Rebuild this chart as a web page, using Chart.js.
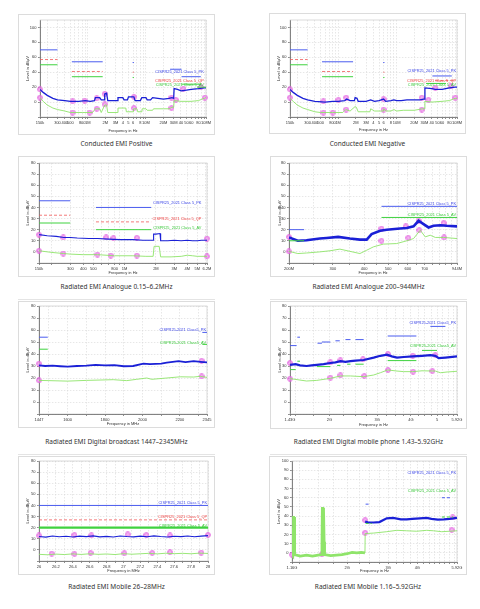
<!DOCTYPE html>
<html>
<head>
<meta charset="utf-8">
<script src="https://cdn.jsdelivr.net/npm/chart.js@4/dist/chart.umd.min.js"></script>
<style>
  body { margin:0; width:480px; height:609px; background:#fff; position:relative; overflow:hidden; font-family:"Noto Sans", sans-serif; }
  .card { position:absolute; border:1px solid #dcdcdc; box-sizing:border-box; }
  canvas { position:absolute; }
  .cap { position:absolute; text-align:center; font-size:6.5px; color:#333; line-height:10px; height:10px; white-space:nowrap; }
  .sep { position:absolute; height:1px; background:#e4e4e4; }
</style>
</head>
<body>
<div class="sep" style="left:18px;top:299px;width:197px"></div>
<div class="sep" style="left:270px;top:299px;width:197px"></div>
<div class="sep" style="left:18px;top:454px;width:197px"></div>
<div class="sep" style="left:270px;top:454px;width:197px"></div>
<script>
// ---- Conducted EMI Positive (MHz, dBuV)
const c1Pk = [[0.15,17],[0.17,13],[0.2,9],[0.25,5],[0.3,3],[0.4,2],[0.5,1],[0.7,1],[0.9,2],[1.1,1],[1.3,2],[1.35,6],[1.6,6],[1.7,3],[1.9,3],[1.95,11],[2.1,12],[2.2,2],[2.8,2],[3.2,2],[3.3,6],[4,6],[4.2,3],[4.8,3],[5,7],[6.2,7],[6.5,2],[8,2],[8.5,6],[10,6],[10.5,3],[12,3],[13,6],[16,5],[20,4],[25,5],[28,6],[30,5],[30.5,18],[35,17],[40,15],[50,16],[60,17],[80,18],[100,19],[108,19]];
const c1Av = [[0.15,6],[0.17,1],[0.2,-4],[0.25,-8],[0.3,-10],[0.4,-12],[0.5,-14],[0.8,-14],[1.2,-14],[1.35,-9],[1.6,-9],[1.7,-14],[1.95,-4],[2.1,-4],[2.2,-14],[3.2,-14],[3.3,-8],[4.5,-8],[4.6,-13],[6,-13],[6.1,-9],[7,-9],[7.2,-13],[8.5,-13],[8.6,-9],[10,-9],[10.5,-11],[13,-11],[13.5,-9],[20,-9],[25,-9],[28,-7],[30,-7],[30.5,2],[40,1],[60,1],[80,2],[100,5],[108,6]];
const c1Marks = [[0.15,17],[0.15,6],[0.545,1],[0.545,-14],[0.88,2],[1.07,-14],[1.42,5],[1.42,-9],[1.95,11],[1.95,-3],[6.2,7],[6.2,-8],[27.5,6],[27.5,-8],[32.6,3],[44,18],[88,20],[103,6]];
const c1LimPk = [[0.15,0.3,70],[0.53,1.8,54],[5.9,6.2,53],[26,41,44],[41,88,34]];
const c1LimQp = [[0.15,0.3,57],[0.53,1.8,41],[5.9,6.2,40]];
const c1LimAv = [[0.15,0.3,50],[0.53,1.8,34],[5.9,6.2,33],[41,88,24],[76,108,20]];

// ---- Conducted EMI Negative
const c2Pk = [[0.15,17],[0.17,13],[0.2,9],[0.25,5],[0.3,3],[0.4,1],[0.6,0],[0.8,1],[1.0,1],[1.3,2],[1.4,4],[1.6,2],[1.9,2],[1.95,6],[2.1,5],[2.2,1],[3,1],[3.6,3],[4.2,1],[5,2],[6,4],[6.5,1],[8,2],[9,3],[10,2],[12,2],[15,3],[20,3],[25,3],[29,4],[30,4],[30.5,19],[40,18],[46,17],[60,17],[80,19],[100,20],[108,20]];
const c2Av = [[0.15,5],[0.17,1],[0.2,-4],[0.25,-8],[0.3,-10],[0.4,-13],[0.5,-14],[0.8,-14],[1.2,-14],[1.35,-10],[1.6,-12],[1.95,-6],[2.05,-7],[2.2,-13],[3.5,-13],[3.6,-9],[4.2,-12],[5.9,-12],[6,-9],[6.5,-12],[8,-12],[9,-10],[10,-12],[13,-11],[20,-11],[28,-9],[30,-9],[30.5,1],[40,0],[60,1],[80,2],[100,5],[108,5]];
const c2Marks = [[0.15,17],[0.15,6],[0.56,1],[0.56,-14],[0.81,-14],[1.01,3],[1.37,6],[1.37,-10],[5.97,4],[5.97,-10],[27,6],[27,-10],[35,3],[46,19],[85,21],[101,6]];
const c2LimPk = [[0.15,0.3,70],[0.53,1.8,54],[5.9,6.2,53],[41,88,35]];
const c2LimQp = [[0.15,0.3,57],[0.53,1.8,41],[5.9,6.2,40],[46,96,29]];
const c2LimAv = [[0.15,0.3,50],[0.53,1.8,34],[5.9,6.2,33],[32,70,25]];

// ---- Radiated EMI Analogue 0.15-6.2 MHz
const c3Pk = [[0.15,15.5],[0.18,14.5],[0.22,14],[0.26,13],[0.3,13],[0.35,12.5],[0.45,12],[0.55,12],[0.7,11.5],[0.9,11],[1.2,11],[1.5,10.5],[1.88,10.5],[1.9,16],[2.0,16],[2.19,16.5],[2.22,10],[2.6,10],[3,10.5],[3.5,10],[4,10.5],[4.5,10],[5,10],[5.5,10.5],[6.2,10.5]];
const c3Av = [[0.15,1],[0.2,-0.5],[0.26,-1.5],[0.3,-2],[0.4,-2.5],[0.55,-2.5],[0.8,-3.5],[1.2,-3.5],[1.6,-4],[1.88,-4],[1.92,5],[2.15,5],[2.22,-4.5],[2.8,-4.5],[3.5,-4],[4,-3],[4.5,-3.5],[5,-4],[6.2,-4]];
const c3Marks = [[0.15,15.5],[0.15,1],[0.257,13],[0.257,-1.5],[0.548,-2.4],[0.664,13],[0.735,-3.3],[0.78,12.4],[1.31,12.7],[1.31,-3.3],[6.2,12],[6.2,-4]];
const c3LimPk = [[0.15,0.3,46],[0.53,1.8,40]];
const c3LimQp = [[0.15,0.3,33],[0.53,1.8,27]];
const c3LimAv = [[0.15,0.3,26],[0.53,1.8,20]];

// ---- Radiated EMI Analogue 200-944 MHz
const c4Pk = [[200,13],[217,10],[235,10.5],[266,12],[283,12.5],[315,13.5],[351,12],[385,11],[410,11],[429,16],[464,19],[493,20],[558,21],[594,21.5],[632,23],[662,28],[693,25],[726,22],[760,23.5],[809,24],[860,23.5],[944,23]];
const c4Av = [[200,0.5],[217,-1.5],[235,-1],[266,0],[292,1],[320,2.5],[351,0.5],[385,-1.5],[410,1.5],[436,4.5],[478,7],[541,7.5],[594,10],[632,12],[672,19.5],[704,13.5],[737,15],[773,13],[834,13],[944,12]];
const c4Marks = [[200,13.5],[200,0.5],[470,21],[470,10],[588,23],[602,12.7],[662,28],[666,19.6],[834,26],[838,13]];
const c4LimPk = [[200,230,20],[470,944,41]];
const c4LimAv = [[200,230,10],[470,944,31]];

// ---- Radiated EMI Digital broadcast 1447-2345 MHz
const c5Pk = [[1447,30.5],[1480,30],[1520,30.3],[1560,29.8],[1600,29.4],[1650,30],[1700,30.3],[1750,31],[1800,30.5],[1850,30.8],[1900,29.8],[1950,30],[2005,32],[2040,31.5],[2100,32],[2130,32.8],[2193,34],[2230,33.2],[2274,34],[2310,33.5],[2345,33]];
const c5Av = [[1447,18],[1500,17.8],[1600,17.4],[1700,18],[1773,18.3],[1844,18.6],[1916,17.8],[1969,18.9],[2023,20],[2050,18.9],[2130,20],[2202,21],[2274,20.8],[2309,21.4],[2345,20.5]];
const c5Marks = [[1447,32],[1447,18],[2316,34.4],[2316,21.4]];
const c5LimPk = [[1447,1494,54],[2320,2345,58]];
const c5LimAv = [[1447,1494,44],[2320,2345,48]];

// ---- Radiated EMI Digital mobile phone 1.43-5.92 GHz (MHz)
const c6Pk = [[1430,31],[1500,31.5],[1557,30.5],[1646,30],[1720,30.5],[1796,31],[1903,31.5],[2015,32.5],[2105,33],[2196,34],[2292,33.5],[2392,34],[2496,34.5],[2676,35],[2914,37],[3085,38.5],[3265,39.5],[3400,38],[3554,37],[3762,37.5],[4061,38],[4396,38.5],[4720,39],[4925,38.5],[5066,36.5],[5364,37],[5920,38]];
const c6Av = [[1430,19.5],[1646,17.5],[1796,18],[2015,19.7],[2196,21.7],[2392,21.7],[2676,21.1],[2914,22.5],[3085,24.4],[3283,26.7],[3554,25.8],[3762,25.3],[4061,25.3],[4396,26],[4925,25.8],[5138,24.4],[5441,25],[5920,25.6]];
const c6Marks = [[1430,32.5],[1430,19.4],[2015,33],[2015,20.3],[2196,34.7],[2196,22.2],[2660,35.6],[2690,21.7],[3290,40],[3290,26.7],[4061,38.6],[4075,25.3],[4925,39.2],[4800,25.8]];
const c6LimPk = [[1430,1513,47],[1522,1557,54],[1807,1876,49],[1876,2015,50],[2105,2184,51],[2292,2392,52],[2496,2676,52],[3283,4190,55],[4720,5364,63]];
const c6LimAv = [[1430,1500,27],[1522,1557,34],[1796,2015,29.5],[2135,2196,30.5],[2325,2392,31.5],[2496,2676,31.5],[3283,4190,34.5],[4396,4995,43]];

// ---- Radiated EMI Mobile 26-28 MHz
const c7Pk = [[26,12],[26.08,11.5],[26.16,12.5],[26.24,11.8],[26.32,12.3],[26.4,11.6],[26.48,12.4],[26.56,11.9],[26.64,12.6],[26.72,11.7],[26.8,12.2],[26.88,11.6],[26.96,12.5],[27.04,12],[27.12,11.7],[27.2,12.4],[27.28,11.8],[27.36,12.6],[27.44,12],[27.52,11.6],[27.6,12.3],[27.68,11.9],[27.76,12.5],[27.84,11.8],[27.92,12.4],[28,12.8]];
const c7Av = [[26,-4],[26.1,-4.4],[26.2,-3.8],[26.3,-4.2],[26.4,-3.6],[26.5,-4.1],[26.6,-3.5],[26.7,-4],[26.8,-3.7],[26.9,-4.2],[27,-3.4],[27.1,-3.9],[27.2,-3.5],[27.3,-3.1],[27.4,-3.6],[27.5,-3],[27.6,-3.4],[27.7,-3.1],[27.8,-3.5],[27.9,-2.9],[28,-3.2]];
const c7Marks = [[26,13],[26.42,13.5],[26.62,13],[27.05,14],[27.27,13.5],[27.55,13],[28,13.5],[26.15,-3.3],[26.42,-3.6],[26.61,-2.7],[27.01,-3],[27.34,-2.7],[27.55,-2.1],[27.92,-2.4]];
const c7LimPk = [[26,28,40]];
const c7LimQp = [[26,28,27]];
const c7LimAv = [[26,28,20]];

// ---- Radiated EMI Mobile 1.16-5.92 GHz (MHz)
const c8Pk = [[2389,34],[2469,33],[2600,33],[2750,33.5],[2958,37.5],[3150,38],[3400,36.5],[3603,36.5],[3800,37],[4100,37.5],[4390,38],[4600,37],[4900,36.2],[5200,36.4],[5500,37],[5920,38]];
const c8AvLow = [[1160,-2],[1168,-3],[1172,22],[1176,40],[1180,21],[1184,39],[1188,20],[1192,-2],[1260,-3.5],[1340,-2.5],[1420,-3.5],[1500,-2.5],[1556,-2],[1560,8],[1566,50],[1571,6],[1576,49],[1581,10],[1587,46],[1593,12],[1600,-2],[1700,-3],[1800,-2.5],[1900,-2],[2000,-1],[2100,0.5],[2200,0],[2300,0.5],[2385,0]];
const c8AvHigh = [[2385,0],[2390,21],[2600,21.5],[2958,23],[3264,24.5],[3603,24],[3977,23.5],[4390,24.5],[4700,24],[5089,23],[5500,23.5],[5920,24]];
const c8Marks = [[1160,-2],[1560,-1.5],[2389,35.6],[2389,21.8],[5673,38.5],[5618,25]];
const c8LimPk = [[2400,2500,53],[5100,5600,60]];
const c8LimAv = [[2400,2550,32],[5100,5700,39]];

// ---- tick labels
const xTicksCond = [0.15,0.3,0.4,0.5,0.8,1,2,3,4,5,6,8,10,20,30,40,50,60,80,108];
const xLabelsCond = ['150k','300','400','500','800','1M','2M','3M','4','5','6','8','10M','20M','30M','40','50','60','80','108M'];
const xTicks3 = [0.15,0.3,0.4,0.5,0.8,1,2,3,4,5,6.2];
const xLabels3 = ['150k','300','400','500','800','1M','2M','3M','4M','5M','6.2M'];
const xTicks4 = [200,300,400,500,600,700,944];
const xLabels4 = ['200M','300','400','500','600','700','944M'];
const xTicks5 = [1447,1600,1800,2000,2200,2345];
const xLabels5 = ['1447','1600','1800','2000','2200','2345'];
const xTicks6 = [1430,2000,3000,4000,5000,5920];
const xLabels6 = ['1.43G','2G','3G','4G','5','5.92G'];
const xTicks7 = [26,26.2,26.4,26.6,26.8,27,27.2,27.4,27.6,27.8,28];
const xLabels7 = ['26','26.2','26.4','26.6','26.8','27','27.2','27.4','27.6','27.8','28'];
const xTicks8 = [1160,2000,3000,4000,5920];
const xLabels8 = ['1.16G','2G','3G','4G','5.92G'];
const yLabelsCond = [110,100,80,60,40,20,0];
const yLabels80 = [80,70,60,50,40,30,20,10,0];
const yLabels100 = [100,90,80,70,60,50,40,30,20,10,0];

const FONT = '"Liberation Sans", Arial, sans-serif';
const C_PK = '#1a20d6', C_AV = '#8fe46a', L_PK = '#4a5cef', L_QP = '#f05858', L_AV = '#3fd23f';
const T_PK = '#3a44e6', T_QP = '#ee4040', T_AV = '#3cc83c';

function pts(a) { return a.map(p => ({x: p[0], y: p[1]})); }
function segs(a) {
  const o = [];
  a.forEach(s => { o.push({x: s[0], y: s[2]}, {x: s[1], y: s[2]}, {x: s[1], y: null}); });
  return o;
}
function gridVals(min, max, step, extra) {
  let v = [];
  if (!step) {
    for (let k = Math.floor(Math.log10(min)); k <= Math.ceil(Math.log10(max)); k++)
      for (let n = 1; n < 10; n++) v.push(+(n * Math.pow(10, k)).toPrecision(6));
  } else {
    for (let x = Math.ceil(min / step) * step; x <= max + 1e-9; x += step) v.push(+x.toFixed(4));
  }
  v = v.concat(extra, [min, max]).filter(x => x >= min - 1e-9 && x <= max + 1e-9).sort((a, b) => a - b);
  return v.filter((x, i) => i === 0 || Math.abs(x - v[i - 1]) > 1e-6 * max);
}

// pink circle-with-diamond marker
const markImg = document.createElement('canvas');
markImg.width = 6; markImg.height = 6;
(function () {
  const g = markImg.getContext('2d');
  g.fillStyle = 'rgba(250,205,247,0.6)';
  g.strokeStyle = '#df4cdb';
  g.lineWidth = 0.75;
  g.beginPath(); g.arc(3, 3, 2.45, 0, Math.PI * 2); g.fill(); g.stroke();
  g.beginPath(); g.moveTo(3, 1.4); g.lineTo(4.6, 3); g.lineTo(3, 4.6); g.lineTo(1.4, 3); g.closePath(); g.stroke();
})();

const tagPlugin = {
  id: 'tags',
  afterDatasetsDraw(chart, args, opts) {
    const ctx = chart.ctx, xs = chart.scales.x, ys = chart.scales.y;
    ctx.save();
    ctx.font = '3.9px ' + FONT;
    ctx.textAlign = 'right';
    ctx.textBaseline = 'middle';
    (opts.items || []).forEach(t => {
      ctx.fillStyle = t[3];
      ctx.fillText(t[2], xs.getPixelForValue(t[0]) - 1, ys.getPixelForValue(t[1]));
    });
    ctx.restore();
  }
};
const framePlugin = {
  id: 'frame',
  beforeDatasetsDraw(chart) {
    const a = chart.chartArea, ctx = chart.ctx;
    ctx.save();
    ctx.strokeStyle = '#c4c4c4';
    ctx.lineWidth = 0.6;
    ctx.strokeRect(a.left, a.top, a.right - a.left, a.bottom - a.top);
    ctx.restore();
  }
};
Chart.register(tagPlugin, framePlugin);

function makeChart(o) {
  const [bl, bt, bw, bh] = o.box;
  const [pl, pt, pr, pb] = o.plot;
  const card = document.createElement('div');
  card.className = 'card';
  Object.assign(card.style, {left: bl + 'px', top: bt + 'px', width: bw + 'px', height: bh + 'px'});
  const cv = document.createElement('canvas');
  cv.width = bw; cv.height = bh;
  Object.assign(cv.style, {left: bl + 'px', top: bt + 'px'});
  const cap = document.createElement('div');
  cap.className = 'cap';
  cap.textContent = o.caption;
  Object.assign(cap.style, {left: bl + 'px', width: bw + 'px', top: (o.capY - 5) + 'px'});
  document.body.append(card, cv, cap);

  const ds = [];
  const dash = o.limDash || [];
  if (o.limPk) ds.push({data: segs(o.limPk), borderColor: L_PK, borderWidth: 1, borderDash: dash});
  if (o.limQp) ds.push({data: segs(o.limQp), borderColor: L_QP, borderWidth: 0.8, borderDash: [3, 2]});
  if (o.limAv) ds.push({data: segs(o.limAv), borderColor: L_AV, borderWidth: o.limAvW || 1, borderDash: dash});
  o.av.forEach((a, i) => ds.push({data: pts(a), borderColor: C_AV, borderWidth: (o.avW || [])[i] || 0.9}));
  ds.push({data: pts(o.pk), borderColor: C_PK, borderWidth: o.pkW || 1.1});
  ds.push({data: pts(o.marks), showLine: false, pointStyle: markImg, pointRadius: 3, clip: false});
  ds.forEach(d => { d.tension = 0; d.fill = false; if (d.pointRadius === undefined) d.pointRadius = 0; });

  const xGrid = gridVals(o.xMin, o.xMax, o.xStep, o.xTicks);
  const xLabel = v => {
    const i = o.xTicks.findIndex(t => Math.abs(t - v) < 1e-6 * Math.max(1, t));
    return i < 0 ? '' : o.xLabels[i];
  };
  const tickFont = {size: 4, family: FONT};
  const gridOpt = {color: '#d6d6d6', lineWidth: 0.6, tickLength: 2, tickColor: '#444', tickWidth: 0.6};

  new Chart(cv, {
    type: 'line',
    data: {datasets: ds},
    options: {
      responsive: false, animation: false, devicePixelRatio: 1,
      layout: {autoPadding: false, padding: {left: 0, top: pt - bt, right: bl + bw - pr, bottom: 0}},
      plugins: {legend: {display: false}, tooltip: {enabled: false}, tags: {items: o.tags}},
      scales: {
        x: {
          type: o.xLog ? 'logarithmic' : 'linear', min: o.xMin, max: o.xMax,
          afterBuildTicks: s => { s.ticks = xGrid.map(v => ({value: v})); },
          afterFit: s => { s.height = bt + bh - pb; },
          ticks: {autoSkip: false, maxRotation: 0, minRotation: 0, padding: 1, color: '#333', font: tickFont,
                  callback: v => xLabel(v)},
          grid: gridOpt,
          border: {display: true, color: '#444', width: 0.8, dash: [1.5, 1.5]},
          title: {display: true, text: o.xTitle, color: '#333', font: tickFont, padding: {top: 1, bottom: 2}}
        },
        y: {
          min: o.yMin, max: o.yMax,
          afterBuildTicks: s => { s.ticks = gridVals(o.yMin, o.yMax, 10, []).map(v => ({value: v})); },
          afterFit: s => { s.width = pl - bl; },
          ticks: {padding: 1.5, color: '#333', font: tickFont,
                  callback: v => o.yLabels.includes(v) ? String(v) : ''},
          grid: gridOpt,
          border: {display: true, color: '#444', width: 0.8, dash: [1.5, 1.5]},
          title: {display: true, text: 'Level in dBµV', color: '#333', font: tickFont, padding: {top: 7, bottom: 0}}
        }
      }
    }
  });
}

makeChart({
  caption: 'Conducted EMI Positive', box: [18, 14, 197, 121], plot: [40, 20, 206, 117], capY: 144,
  xLog: true, xMin: 0.15, xMax: 108, xTicks: xTicksCond, xLabels: xLabelsCond, xTitle: 'Frequency in Hz',
  yMin: -20, yMax: 110, yLabels: yLabelsCond,
  pk: c1Pk, pkW: 1.3, av: [c1Av], marks: c1Marks, limPk: c1LimPk, limQp: c1LimQp, limAv: c1LimAv,
  tags: [[103, 41, 'CISPR25_2021 Class 5_PK', T_PK], [103, 29, 'CISPR25_2021 Class 5_QP', T_QP], [103, 22.5, 'CISPR25_2021 Class 5_AV', T_AV]]
});
makeChart({
  caption: 'Conducted EMI Negative', box: [269, 13, 197, 121], plot: [290, 20, 457, 117], capY: 144,
  xLog: true, xMin: 0.15, xMax: 108, xTicks: xTicksCond, xLabels: xLabelsCond, xTitle: 'Frequency in Hz',
  yMin: -20, yMax: 110, yLabels: yLabelsCond,
  pk: c2Pk, pkW: 1.3, av: [c2Av], marks: c2Marks, limPk: c2LimPk, limQp: c2LimQp, limAv: c2LimAv,
  tags: [[108, 42, 'CISPR25_2021 Class 5_PK', T_PK], [108, 29, 'CISPR25_2021 Class 5_QP', T_QP], [108, 22.5, 'CISPR25_2021 Class 5_AV', T_AV]]
});
makeChart({
  caption: 'Radiated EMI Analogue 0.15–6.2MHz', box: [18, 156, 197, 121], plot: [39, 163, 207, 263], capY: 287,
  xLog: true, xMin: 0.15, xMax: 6.2, xTicks: xTicks3, xLabels: xLabels3, xTitle: 'Frequency in Hz',
  yMin: -10, yMax: 80, yLabels: yLabels80,
  pk: c3Pk, pkW: 1.1, av: [c3Av], marks: c3Marks, limPk: c3LimPk, limQp: c3LimQp, limAv: c3LimAv,
  tags: [[5.6, 44, 'CISPR25_2021 Class 5_PK', T_PK], [5.6, 30, 'CISPR25_2021 Class 5_QP', T_QP], [5.6, 22, 'CISPR25_2021 Class 5_AV', T_AV]]
});
makeChart({
  caption: 'Radiated EMI Analogue 200–944MHz', box: [270, 156, 197, 121], plot: [289, 163, 457, 263], capY: 287,
  xLog: true, xMin: 200, xMax: 944, xStep: 50, xTicks: xTicks4, xLabels: xLabels4, xTitle: 'Frequency in Hz',
  yMin: -10, yMax: 80, yLabels: yLabels80,
  pk: c4Pk, pkW: 2.6, av: [c4Av], marks: c4Marks, limPk: c4LimPk, limAv: c4LimAv,
  tags: [[944, 43, 'CISPR25_2021 Class 5_PK', T_PK], [944, 33.2, 'CISPR25_2021 Class 5_AV', T_AV]]
});
makeChart({
  caption: 'Radiated EMI Digital broadcast 1447–2345MHz', box: [18, 301, 197, 127], plot: [39, 306, 207, 414], capY: 442,
  xLog: false, xMin: 1447, xMax: 2345, xStep: 100, xTicks: xTicks5, xLabels: xLabels5, xTitle: 'Frequency in MHz',
  yMin: -10, yMax: 80, yLabels: yLabels80,
  pk: c5Pk, pkW: 1.8, av: [c5Av], marks: c5Marks, limPk: c5LimPk, limAv: c5LimAv,
  tags: [[2345, 60, 'CISPR25-2021 Class5_PK', T_PK], [2345, 49.5, 'CISPR25-2021 Class5_AV', T_AV]]
});
makeChart({
  caption: 'Radiated EMI Digital mobile phone 1.43–5.92GHz', box: [270, 301, 197, 128], plot: [290, 306, 457, 414], capY: 442,
  xLog: true, xMin: 1430, xMax: 5920, xStep: 250, xTicks: xTicks6, xLabels: xLabels6, xTitle: 'Frequency in Hz',
  yMin: -10, yMax: 80, yLabels: yLabels80,
  pk: c6Pk, pkW: 2.2, av: [c6Av], marks: c6Marks, limPk: c6LimPk, limAv: c6LimAv,
  tags: [[5920, 66, 'CISPR25-2021 Class5_PK', T_PK], [5920, 46.7, 'CISPR25-2021 Class5_AV', T_AV]]
});
makeChart({
  caption: 'Radiated EMI Mobile 26–28MHz', box: [18, 456, 197, 119], plot: [39, 461, 208, 561], capY: 587,
  xLog: false, xMin: 26, xMax: 28, xStep: 0.1, xTicks: xTicks7, xLabels: xLabels7, xTitle: 'Frequency in MHz',
  yMin: -10, yMax: 80, yLabels: yLabels80,
  pk: c7Pk, pkW: 1.1, av: [c7Av], marks: c7Marks, limPk: c7LimPk, limQp: c7LimQp, limAv: c7LimAv, limAvW: 2.4,
  tags: [[28, 42, 'CISPR25_2021 Class 5_PK', T_PK], [28, 29.3, 'CISPR25_2021 Class 5_QP', T_QP], [28, 22, 'CISPR25_2021 Class 5_AV', T_AV]]
});
makeChart({
  caption: 'Radiated EMI Mobile 1.16–5.92GHz', box: [269, 456, 198, 119], plot: [292, 461, 457, 562], capY: 587,
  xLog: true, xMin: 1160, xMax: 5920, xStep: 250, xTicks: xTicks8, xLabels: xLabels8, xTitle: 'Frequency in Hz',
  yMin: -10, yMax: 100, yLabels: yLabels100,
  pk: c8Pk, pkW: 2.2, av: [c8AvLow, c8AvHigh], avW: [2.8, 0.9], marks: c8Marks, limPk: c8LimPk, limAv: c8LimAv, limDash: [3, 2],
  tags: [[5920, 86.5, 'CISPR25_2021 Class 5_PK', T_PK], [5920, 67.3, 'CISPR25_2021 Class 5_AV', T_AV]]
});
</script>
</body>
</html>
